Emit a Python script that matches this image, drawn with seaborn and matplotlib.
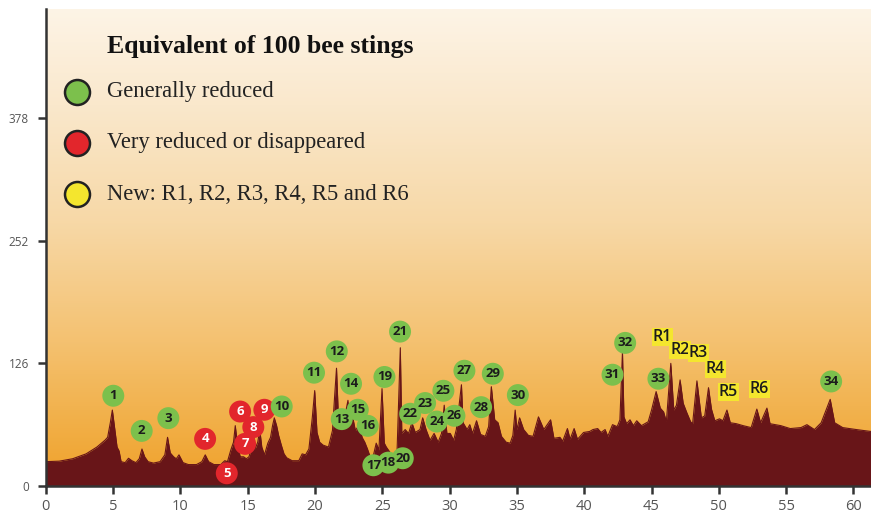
import numpy as np
import pandas as pd
import matplotlib
matplotlib.use("Agg")
import matplotlib.pyplot as plt
from matplotlib.colors import LinearSegmentedColormap
import seaborn as sns

sns.set_theme(style="ticks")
plt.rcParams['font.family'] = ['Open Sans', 'DejaVu Sans']

# chromatogram trace (retention time, intensity)
trace_t = [0, 1, 2, 3, 3.8, 4.4, 4.6, 4.8, 4.95, 5.1, 5.3, 5.45, 5.6, 5.9, 6.15, 6.4, 6.7,
           6.95, 7.15, 7.35, 7.6, 8.0, 8.5, 8.85, 9.05, 9.25, 9.5, 9.7, 9.9, 10.2, 10.6,
           11.2, 11.6, 11.85, 12.1, 12.5, 13.0, 13.3, 13.5, 13.75, 13.95, 14.08, 14.25,
           14.45, 14.7, 14.9, 15.1, 15.3, 15.45, 15.55, 15.75, 15.9, 16.05, 16.25, 16.5,
           16.7, 16.85, 16.98, 17.15, 17.3, 17.5, 17.7, 17.9, 18.3, 18.8, 19.05, 19.3,
           19.55, 19.8, 19.98, 20.15, 20.35, 20.6, 21.0, 21.3, 21.45, 21.6, 21.75, 22.0,
           22.2, 22.45, 22.55, 22.8, 23.0, 23.3, 23.5, 23.7, 23.9, 24.1, 24.35, 24.55,
           24.75, 24.98, 25.15, 25.3, 25.55, 25.8, 26.1, 26.34, 26.45, 26.7, 26.95, 27.2,
           27.45, 27.8, 28.0, 28.25, 28.55, 28.85, 29.15, 29.4, 29.6, 29.8, 30.05, 30.3,
           30.5, 30.88, 31.0, 31.3, 31.5, 31.7, 32.0, 32.3, 32.65, 32.9, 33.1, 33.35,
           33.6, 33.85, 34.2, 34.5, 34.7, 34.87, 35.0, 35.2, 35.5, 35.85, 36.2, 36.6,
           37.0, 37.5, 37.75, 38.2, 38.4, 38.75, 38.95, 39.25, 39.5, 39.95, 40.4, 40.65,
           41.0, 41.25, 41.55, 41.75, 42.1, 42.45, 42.65, 42.84, 42.95, 43.15, 43.4,
           43.65, 43.9, 44.25, 44.75, 45.0, 45.34, 45.65, 45.9, 46.1, 46.43, 46.65,
           46.85, 47.12, 47.35, 47.6, 47.9, 48.05, 48.37, 48.7, 48.95, 49.23, 49.45,
           49.7, 50.05, 50.3, 50.6, 50.85, 51.3, 51.8, 52.4, 52.82, 53.1, 53.57, 53.8,
           54.6, 55.3, 56.1, 56.54, 57.1, 57.6, 58.27, 58.6, 59.2, 60.2, 61.3]
trace_v = [25, 25.5, 28, 33, 40, 47, 50, 65, 78, 62, 40, 36, 25, 24, 28.5, 26, 24,
           28, 38, 30, 25, 23.5, 25, 32, 50, 34, 30, 28, 32, 24, 22,
           22, 25, 32, 25, 22, 22, 26, 25, 37, 45, 62, 42,
           30, 30, 28, 30, 40, 50, 38, 45, 58, 40, 32, 44,
           50, 62, 70, 62, 52, 42, 33, 29, 26, 26, 33, 32,
           38, 70, 98, 55, 45, 42, 40, 57, 90, 121, 67, 63,
           70, 88, 67, 71, 57, 63, 50, 45, 38, 30, 32, 44,
           37, 100, 44, 40, 35, 30, 37, 142, 54, 58, 54, 65,
           55, 58, 70, 58, 47, 54, 45, 54, 83, 54, 54, 47,
           58, 104, 65, 58, 63, 54, 67, 53, 51, 61, 102, 68,
           65, 51, 45, 44, 52, 78, 58, 70, 58, 52, 51, 71,
           58, 68, 49, 50, 46, 59, 48, 59, 48, 55, 56, 58,
           59, 55, 58, 51, 63, 61, 68, 138, 71, 64, 68,
           62, 67, 62, 66, 78, 97, 80, 76, 66, 126, 78,
           83, 109, 85, 76, 66, 64, 108, 70, 72, 101, 79,
           67, 69, 67, 78, 65, 64, 62, 60, 79, 65, 80, 64,
           62, 59, 60, 63, 58, 65, 89, 65, 60, 58, 56]

# numbered peak markers
peak_names = ["1", "2", "3", "4", "5", "6", "7", "8", "9", "10", "11", "12", "13", "14",
              "15", "16", "17", "18", "19", "20", "21", "22", "23", "24", "25", "26",
              "27", "28", "29", "30", "31", "32", "33", "34"]
peak_t = [5.02, 7.13, 9.11, 11.84, 13.45, 14.44, 14.81, 15.42, 16.24, 17.53, 19.93,
          21.62, 21.99, 22.68, 23.18, 23.92, 24.34, 25.45, 25.16, 26.52, 26.32, 27.07,
          28.18, 29.05, 29.54, 30.36, 31.1, 32.34, 33.21, 35.07, 42.1, 43.04, 45.51, 58.34]
peak_v = [92.7, 56.6, 69.7, 48.4, 13.1, 76.5, 43.3, 60.5, 78.3, 81.7, 116.4, 138.3,
          68.7, 105, 78.3, 61.8, 21.3, 24, 112, 28.5, 158.6, 74.2, 85.2, 66.2, 97.8,
          72.1, 118.4, 81, 115.3, 93.4, 114.3, 147, 110.2, 107.4]
peak_status = ["reduced"] * 3 + ["gone"] * 6 + ["reduced"] * 25

# new peaks
new_names = ["R1", "R2", "R3", "R4", "R5", "R6"]
new_t = [45.81, 47.12, 48.48, 49.72, 50.71, 53.02]
new_v = [152.7, 139.3, 136.7, 120.2, 96.1, 99.6]

legend_title = "Equivalent of 100 bee stings"
legend_labels = ["Generally reduced", "Very reduced or disappeared",
                 "New: R1, R2, R3, R4, R5 and R6"]

green = "#7cc04c"
red = "#e2262c"
yellow = "#f4e62e"
maroon = "#681518"

fig = plt.figure(figsize=(8.71, 5.13), dpi=100)
ax = fig.add_axes([45.7 / 871, 27 / 513, 1 - 45.7 / 871, 477 / 513])

xmax, ymax = 61.3, 490
bg = LinearSegmentedColormap.from_list(
    "bg", [(0, "#efa02a"), (0.1, "#f1ac40"), (0.3, "#f4c170"),
           (0.55, "#f7d8a6"), (0.8, "#fae8cc"), (1, "#fdf4e6")])
ax.imshow(np.linspace(0, 1, 256).reshape(-1, 1), cmap=bg, origin="lower",
          extent=(0, xmax, 0, ymax), aspect="auto", zorder=0)

df = pd.DataFrame({"t": trace_t, "v": trace_v})
ax.fill_between(df["t"], 0, df["v"], color=maroon, lw=0, zorder=2)
sns.lineplot(data=df, x="t", y="v", color=maroon, lw=0.8, ax=ax, zorder=2)

peaks = pd.DataFrame({"t": peak_t, "v": peak_v, "status": peak_status, "name": peak_names})
sns.scatterplot(data=peaks, x="t", y="v", hue="status",
                palette={"reduced": green, "gone": red}, s=250, linewidth=0,
                legend=False, ax=ax, zorder=4)
for _, r in peaks.iterrows():
    ax.text(r["t"], r["v"], r["name"], ha="center", va="center", fontsize=9.5,
            fontweight="bold", color="white" if r["status"] == "gone" else "#1c1c1c",
            zorder=5)
for n, t, v in zip(new_names, new_t, new_v):
    ax.text(t, v, n, ha="center", va="center", fontsize=11.5, fontweight="semibold",
            color="#1c1c1c", zorder=5,
            bbox=dict(boxstyle="square,pad=0.06", fc=yellow, ec="none"))

ax.set_xlim(0, xmax)
ax.set_ylim(0, ymax)
ax.set_xticks(range(0, 61, 5))
ax.set_yticks([0, 126, 252, 378])
ax.set_xlabel("")
ax.set_ylabel("")
for s in ["top", "right"]:
    ax.spines[s].set_visible(False)
for s in ["left", "bottom"]:
    ax.spines[s].set_color("#333333")
    ax.spines[s].set_linewidth(1.8)
ax.tick_params(axis="x", length=6, width=1.8, color="#333333", labelsize=10.5,
               labelcolor="#555555", pad=3)
ax.tick_params(axis="y", length=6, width=1.8, color="#333333", labelsize=8.5,
               labelcolor="#555555", pad=6)

# legend block
fig.text(107 / 871, 1 - 46 / 513, legend_title, fontsize=18.5, fontweight="bold",
         family="Liberation Serif", va="center", ha="left", color="#111111")
for i, (lab, c) in enumerate(zip(legend_labels, [green, red, yellow])):
    y = 1 - (92 + 51 * i) / 513
    fig.add_artist(plt.Line2D([77 / 871], [y], marker="o", markersize=18,
                              markerfacecolor=c, markeredgecolor="#222222",
                              markeredgewidth=1.8, transform=fig.transFigure))
    fig.text(107 / 871, y, lab, fontsize=16.3, family="Liberation Serif",
             va="center", ha="left", color="#222222")

fig.savefig("out.png", dpi=100)
